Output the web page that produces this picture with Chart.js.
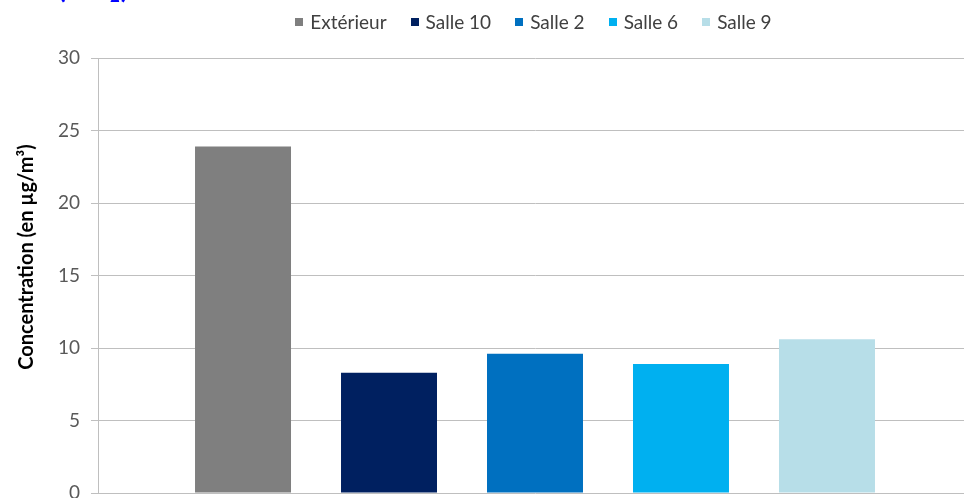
<!DOCTYPE html>
<html>
<head>
<meta charset="utf-8">
<script src="https://cdn.jsdelivr.net/npm/chart.js@4"></script>
<style>
  html, body { margin: 0; padding: 0; background: #fff; overflow: hidden; }
  #wrap { position: relative; width: 964px; height: 498px; overflow: hidden; }
  #c { position: absolute; left: 0; top: 0; }
</style>
</head>
<body>
<div id="wrap"><canvas id="c" width="980" height="530"></canvas></div>
<script>
// ---- data ----
const categories = ['Extérieur', 'Salle 10', 'Salle 2', 'Salle 6', 'Salle 9'];
const values = [23.9, 8.3, 9.6, 8.9, 10.6];
const yTickValues = [0, 5, 10, 15, 20, 25, 30];
const yAxisTitle = 'Concentration (en µg/m³)';
const titleMain = '(NO';
const titleSub = '2';
const titleEnd = ')';

// ---- styles ----
const barColors = ['#7F7F7F', '#002060', '#0070C0', '#00B0F0', '#B7DEE8'];
const gridColor = '#BFBFBF';
const textColor = '#595959';
const FONT = 'Lato, Calibri, "Open Sans", sans-serif';

const datasets = categories.map((name, i) => ({
  label: name,
  data: [values[i]],
  backgroundColor: barColors[i],
  borderWidth: 0,
  categoryPercentage: 0.8352,
  barPercentage: 0.6575
}));

const overlayPlugin = {
  id: 'overlay',
  afterDraw(chart) {
    const ctx = chart.ctx;
    ctx.save();
    // legend
    ctx.font = '19px ' + FONT;
    ctx.textBaseline = 'middle';
    ctx.textAlign = 'left';
    const box = 8, gap = 7, itemGap = 24;
    const widths = categories.map(t => ctx.measureText(t).width);
    let total = widths.reduce((a, w) => a + box + gap + w, 0) + itemGap * (categories.length - 1);
    let x = 533.5 - total / 2;
    categories.forEach((t, i) => {
      ctx.fillStyle = barColors[i];
      ctx.fillRect(Math.round(x), 18, box, box);
      ctx.fillStyle = '#404040';
      ctx.fillText(t, x + box + gap, 23);
      x += box + gap + widths[i] + itemGap;
    });
    // y-axis title
    ctx.save();
    ctx.translate(33, 257);
    ctx.rotate(-Math.PI / 2);
    ctx.font = 'bold 20px ' + FONT;
    ctx.fillStyle = '#000';
    ctx.textAlign = 'center';
    ctx.textBaseline = 'alphabetic';
    ctx.fillText(yAxisTitle, 0, 0);
    ctx.restore();
    // cut-off title at top
    ctx.fillStyle = '#0000FF';
    ctx.textBaseline = 'alphabetic';
    ctx.font = 'bold 28px ' + FONT;
    let tx = 58;
    ctx.fillText(titleMain, tx, -2);
    tx += ctx.measureText(titleMain).width;
    ctx.font = 'bold 17px ' + FONT;
    ctx.fillText(titleSub, tx, 2);
    tx += ctx.measureText(titleSub).width + 1;
    ctx.font = 'bold 28px ' + FONT;
    ctx.fillText(titleEnd, tx, -2);
    ctx.restore();
  }
};

new Chart(document.getElementById('c'), {
  type: 'bar',
  data: { labels: [''], datasets },
  options: {
    responsive: false,
    animation: false,
    layout: { padding: { top: 58, right: 8, bottom: 37, left: 0 } },
    plugins: { legend: { display: false }, tooltip: { enabled: false }, title: { display: false } },
    scales: {
      x: { display: false },
      y: {
        min: 0, max: 30,
        afterFit(scale) { scale.width = 98; },
        afterBuildTicks(scale) { scale.ticks = yTickValues.map(v => ({ value: v })); },
        grid: { color: gridColor, tickColor: gridColor, tickLength: 7, drawTicks: true, lineWidth: 1 },
        border: { color: gridColor, width: 1 },
        ticks: { color: textColor, font: { family: FONT, size: 19 }, padding: 11 }
      }
    }
  },
  plugins: [overlayPlugin]
});
</script>
</body>
</html>
